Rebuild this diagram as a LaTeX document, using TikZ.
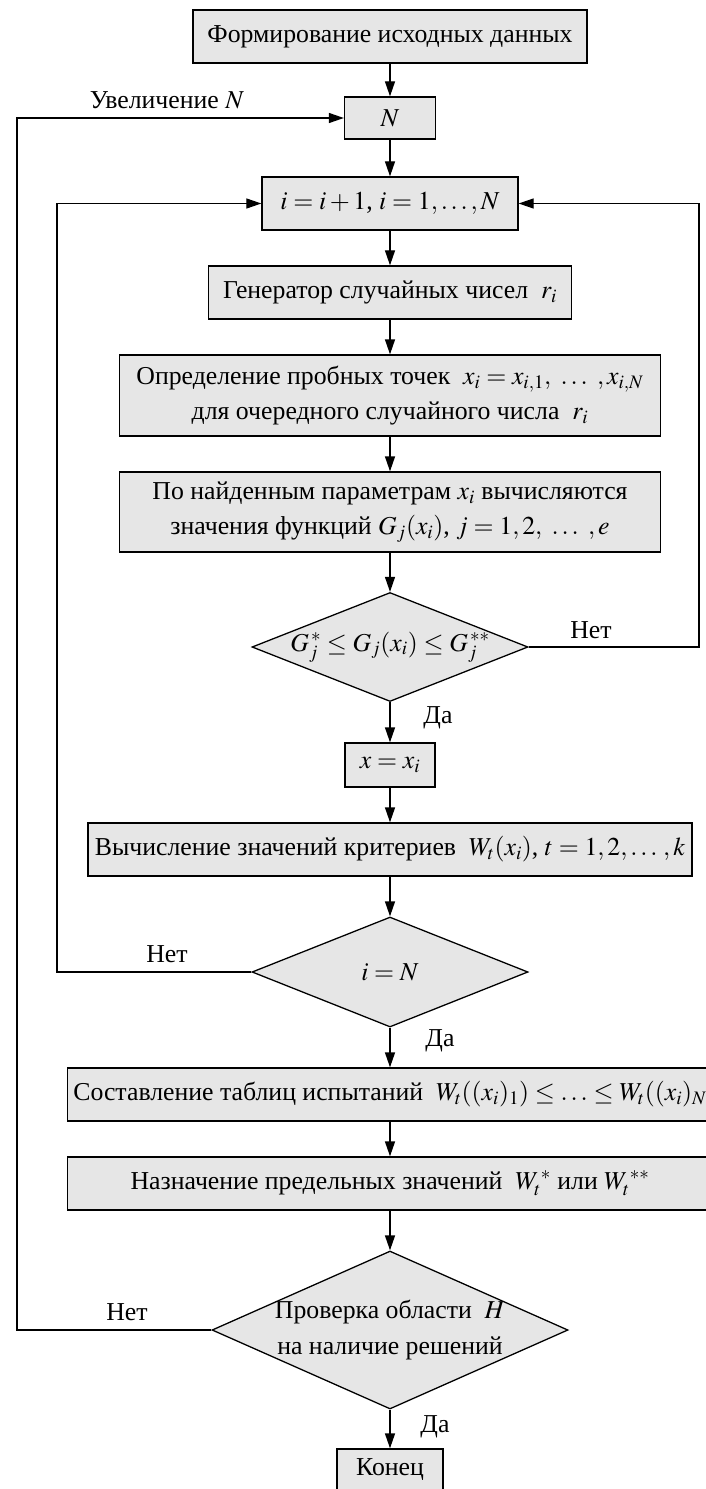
\documentclass[tikz,border=0pt]{standalone}
\usepackage{mathptmx}
\usepackage{fontspec}
\setmainfont{Liberation Serif}
\usetikzlibrary{shapes.geometric,arrows.meta}
\definecolor{boxgray}{RGB}{230,230,230}
\tikzset{
  block/.style={draw, fill=boxgray, line width=1.1pt, inner sep=0pt, align=center},
  decision/.style={draw, fill=boxgray, line width=1.1pt, diamond, inner sep=0pt},
  flow/.style={->, line width=1.1pt},
}

\begin{document}
\begin{tikzpicture}[x=0.03cm, y=-0.03cm, >={Triangle[length=4.5mm, width=3mm]}, font=\fontsize{22}{30}\selectfont]
    \useasboundingbox (0,0) rectangle (706,1489);

    % Bloecke
    \node[block, minimum width=11.82cm, minimum height=1.59cm] (start) at (390,36.5) {Формирование исходных данных};
    \node[block, minimum width=2.73cm, minimum height=1.26cm] (nbox) at (390,118) {$N$};
    \node[block, minimum width=7.68cm, minimum height=1.59cm] (ibox) at (390,203.5) {$i = i + 1$, $i = 1,\ldots, N$};
    \node[block, minimum width=10.89cm, minimum height=1.59cm] (gen) at (390,292.5) {Генератор случайных чисел~ $r_i$};
    \node[block, minimum width=16.23cm, minimum height=2.43cm] (points) at (390,395.5) {Определение пробных точек~ $x_i = x_{i,1},\ \ldots\ , x_{i,N}$\\для очередного случайного числа~ $r_i$};
    \node[block, minimum width=16.23cm, minimum height=2.40cm] (func) at (390,512) {По найденным параметрам $x_i$ вычисляются\\значения функций $G_j(x_i)$, $j = 1,2,\ \ldots\ , e$};

    % Pruefung G
    \node[decision, minimum width=8.28cm, minimum height=3.27cm] (gtest) at (390,647) {};
    \node (gtxt) at (gtest) {$G_j^{\,*} \le G_j(x_i) \le G_j^{\,**}$};

    \node[block, minimum width=2.70cm, minimum height=1.32cm] (xbox) at (390,765) {$x = x_i$};
    \node[block, minimum width=18.12cm, minimum height=1.59cm] (crit) at (390,849.5) {Вычисление значений критериев~ $W_t(x_i)$, $t = 1,2,\ldots\,, k$};

    % Pruefung i
    \node[decision, minimum width=8.28cm, minimum height=3.30cm] (itest) at (390,972) {};
    \node (itxt) at (itest) {$i = N$};

    \node[block, minimum width=19.35cm, minimum height=1.59cm] (table) at (390,1094.5) {Составление таблиц испытаний~ $W_t((x_i)_1) \le \ldots \le W_t((x_i)_N$};
    \node[block, minimum width=19.35cm, minimum height=1.59cm] (limits) at (390,1183.5) {Назначение предельных значений~ $W_t^{\,*}$ или $W_t^{\,**}$};

    % Pruefung H
    \node[decision, minimum width=10.68cm, minimum height=4.74cm] (htest) at (390,1330) {};
    \node[align=center] (htxt) at (htest) {Проверка области~ $H$\\на наличие решений};

    \node[block, minimum width=3.18cm, minimum height=1.26cm] (stop) at (390,1470) {Конец};

    % Pfeile
    \draw[flow] (start) -- (nbox);
    \draw[flow] (nbox) -- (ibox);
    \draw[flow] (ibox) -- (gen);
    \draw[flow] (gen) -- (points);
    \draw[flow] (points) -- (func);
    \draw[flow] (func) -- (gtest);
    \draw[flow] (gtest) -- (xbox);
    \draw[flow] (xbox) -- (crit);
    \draw[flow] (crit) -- (itest);
    \draw[flow] (itest) -- (table);
    \draw[flow] (table) -- (limits);
    \draw[flow] (limits) -- (htest);
    \draw[flow] (htest) -- (stop);

    % Rueckfuehrungen
    \coordinate (rloop) at (699,203.5);
    \coordinate (iloop) at (57,203.5);
    \coordinate (oloop) at (17,118);
    \draw[flow] (gtest.east) -| (rloop) -- (ibox.east);
    \draw[flow] (itest.west) -| (iloop) -- (ibox.west);
    \draw[flow] (htest.west) -| (oloop) -- (nbox.west);

    % Beschriftungen
    \node (incN) at (167,100) {Увеличение $N$};
    \node (no1) at (591,630) {Нет};
    \node (yes1) at (438,718) {Да};
    \node (no2) at (167,954) {Нет};
    \node (yes2) at (440,1041) {Да};
    \node (no3) at (127,1312) {Нет};
    \node (yes3) at (435,1427) {Да};
\end{tikzpicture}
\end{document}
